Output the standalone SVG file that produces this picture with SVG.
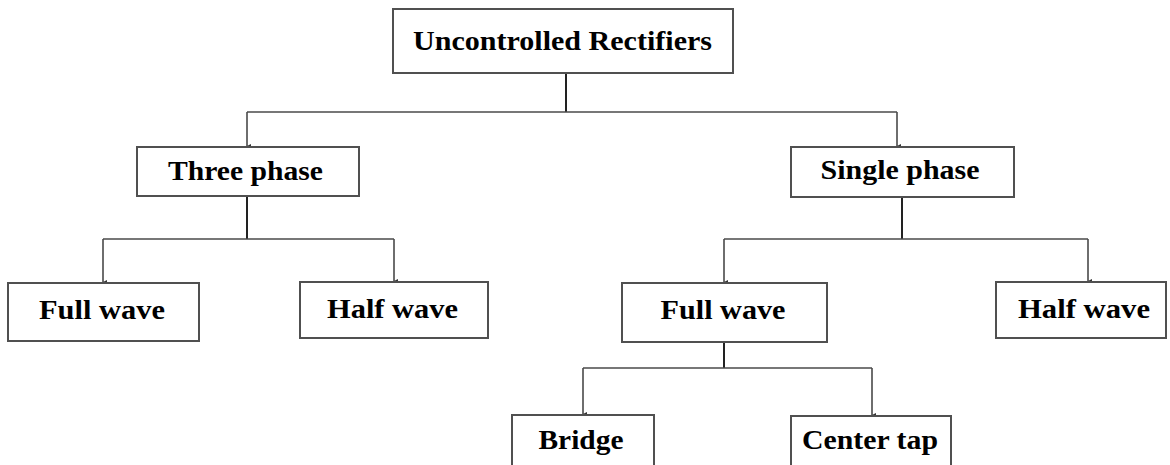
<svg xmlns="http://www.w3.org/2000/svg" width="1170" height="465" viewBox="0 0 1170 465">
  <style>
    .box { fill: #ffffff; stroke: #505050; stroke-width: 2; }
    .lbl { font-family: "Liberation Serif", "Times New Roman", serif; font-weight: bold; font-size: 27px; fill: #000000; text-anchor: middle; }
    .wire { fill: none; stroke: #4a4a4a; stroke-width: 1.6; }
    .stem { fill: none; stroke: #222222; stroke-width: 2; }
  </style>
  <defs>
    <marker id="tip" viewBox="0 0 4 4" refX="2" refY="4" markerWidth="4" markerHeight="4" markerUnits="userSpaceOnUse" orient="auto-start-reverse">
      <path d="M0,0 L4,0 L2,4 Z" fill="#333333"/>
    </marker>
  </defs>
  <rect width="1170" height="465" fill="#ffffff"/>

  <!-- tree connectors -->
  <g id="connectors">
    <path class="stem" d="M566,73 V112"/>
    <path class="wire" d="M247,112 H897"/>
    <path class="wire" d="M247,112 V146" marker-end="url(#tip)"/>
    <path class="wire" d="M897,112 V146" marker-end="url(#tip)"/>

    <path class="stem" d="M247,196 V239"/>
    <path class="wire" d="M103,239 H394"/>
    <path class="wire" d="M103,239 V282" marker-end="url(#tip)"/>
    <path class="wire" d="M394,239 V281" marker-end="url(#tip)"/>

    <path class="stem" d="M902,197 V239"/>
    <path class="wire" d="M724,239 H1088"/>
    <path class="wire" d="M724,239 V282" marker-end="url(#tip)"/>
    <path class="wire" d="M1088,239 V281" marker-end="url(#tip)"/>

    <path class="stem" d="M724,342 V368"/>
    <path class="wire" d="M583,368 H872"/>
    <path class="wire" d="M583,368 V414" marker-end="url(#tip)"/>
    <path class="wire" d="M872,368 V415" marker-end="url(#tip)"/>
  </g>

  <g id="root">
    <rect class="box" x="393" y="9" width="340" height="64"/>
    <text class="lbl" x="562.5" y="50" textLength="299" lengthAdjust="spacingAndGlyphs">Uncontrolled Rectifiers</text>
  </g>

  <g id="three-phase">
    <rect class="box" x="137" y="147" width="222" height="49"/>
    <text class="lbl" x="245.5" y="180" textLength="155" lengthAdjust="spacingAndGlyphs">Three phase</text>
  </g>

  <g id="single-phase">
    <rect class="box" x="791" y="147" width="223" height="50"/>
    <text class="lbl" x="900" y="179" textLength="159" lengthAdjust="spacingAndGlyphs">Single phase</text>
  </g>

  <g id="three-full-wave">
    <rect class="box" x="8" y="283" width="191" height="58"/>
    <text class="lbl" x="102" y="319" textLength="126" lengthAdjust="spacingAndGlyphs">Full wave</text>
  </g>

  <g id="three-half-wave">
    <rect class="box" x="300" y="282" width="188" height="56"/>
    <text class="lbl" x="392.5" y="318" textLength="131" lengthAdjust="spacingAndGlyphs">Half wave</text>
  </g>

  <g id="single-full-wave">
    <rect class="box" x="622" y="283" width="205" height="59"/>
    <text class="lbl" x="723" y="319" textLength="125" lengthAdjust="spacingAndGlyphs">Full wave</text>
  </g>

  <g id="single-half-wave">
    <rect class="box" x="996" y="282" width="170" height="56"/>
    <text class="lbl" x="1084" y="318" textLength="132" lengthAdjust="spacingAndGlyphs">Half wave</text>
  </g>

  <g id="bridge">
    <rect class="box" x="512" y="415" width="142" height="60"/>
    <text class="lbl" x="581" y="449" textLength="85" lengthAdjust="spacingAndGlyphs">Bridge</text>
  </g>

  <g id="center-tap">
    <rect class="box" x="791" y="416" width="160" height="60"/>
    <text class="lbl" x="870" y="449" textLength="136" lengthAdjust="spacingAndGlyphs">Center tap</text>
  </g>
</svg>
